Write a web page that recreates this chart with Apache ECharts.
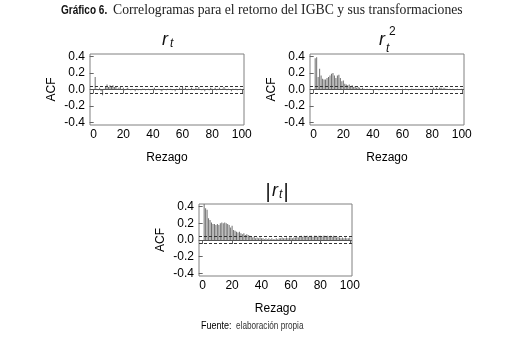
<!DOCTYPE html>
<html><head><meta charset="utf-8">
<script src="https://cdn.jsdelivr.net/npm/echarts@6/dist/echarts.min.js"></script>
<style>html,body{margin:0;padding:0;background:#fff}#c{width:525px;height:339px}</style>
</head><body><div id="c"></div>
<script>
const lags = Array.from({length: 100}, (_, i) => i + 1);
const xTicks = [0, 20, 40, 60, 80, 100];
const yTicks = [-0.4, -0.2, 0.0, 0.2, 0.4];
const confBound = 0.042;
const acfR = [0.15,0.01,-0.01,0.02,-0.02,-0.07,0.01,0.03,0.06,0.03,
  0.05,0.04,0.05,0.03,0.04,0.01,0.02,0.03,0.00,0.02,
  -0.01,0.01,0.02,0.00,-0.01,0.01,0.00,-0.02,0.01,-0.01,
  0.00,-0.01,0.01,0.01,-0.01,0.00,0.01,-0.01,0.00,0.01,
  0.02,-0.01,0.00,0.01,-0.01,-0.02,0.01,0.00,-0.01,0.01,
  0.00,0.01,-0.01,0.00,-0.02,0.01,0.00,0.02,0.01,0.03,
  0.01,0.02,-0.01,0.01,0.00,0.02,0.01,-0.01,0.02,0.01,
  0.03,0.00,-0.01,0.01,-0.02,0.00,0.01,-0.01,0.02,0.01,
  0.00,0.02,-0.01,0.01,0.02,0.00,0.01,0.03,0.01,-0.01,
  0.01,0.00,-0.02,0.01,0.00,0.01,-0.01,0.00,0.01,0.00];
const acfR2 = [0.38,0.39,0.15,0.25,0.17,0.13,0.12,0.12,0.14,0.15,
  0.17,0.19,0.20,0.17,0.14,0.17,0.18,0.14,0.10,0.11,
  0.07,0.06,0.05,0.06,0.04,0.05,0.03,0.04,0.02,0.03,
  0.02,0.01,0.02,0.01,0.00,0.01,0.00,0.01,0.00,-0.01,
  0.00,0.01,0.00,-0.01,0.00,0.00,0.01,0.00,-0.01,0.00,
  0.01,0.00,0.00,0.01,-0.01,0.00,0.01,0.00,0.00,0.01,
  0.00,0.01,0.00,-0.01,0.00,0.01,0.01,0.00,0.01,0.00,
  0.01,0.00,0.01,0.01,0.00,0.01,0.00,0.01,0.01,0.01,
  0.02,0.01,0.02,0.01,0.02,0.02,0.01,0.02,0.01,0.01,
  0.00,0.01,0.00,0.01,-0.01,0.00,0.01,0.00,0.00,0.01];
const acfAbs = [0.44,0.38,0.36,0.26,0.24,0.21,0.19,0.19,0.18,0.19,
  0.18,0.20,0.21,0.20,0.21,0.20,0.19,0.18,0.15,0.17,
  0.12,0.11,0.10,0.09,0.10,0.08,0.07,0.08,0.06,0.07,
  0.06,0.05,0.04,0.03,0.04,0.02,0.03,0.02,0.03,0.02,
  0.02,0.01,0.02,0.01,0.02,0.01,0.02,0.01,0.01,0.02,
  0.01,0.02,0.02,0.03,0.02,0.02,0.03,0.02,0.03,0.03,
  0.02,0.03,0.03,0.04,0.03,0.04,0.05,0.04,0.05,0.04,
  0.05,0.04,0.05,0.05,0.04,0.05,0.05,0.04,0.05,0.05,
  0.04,0.05,0.05,0.04,0.05,0.04,0.05,0.04,0.05,0.04,
  0.03,0.04,0.03,0.02,0.03,0.02,0.03,0.02,0.02,0.03];

const chart = echarts.init(document.getElementById('c'), null, {renderer: 'canvas'});
const AX = 'Liberation Sans, Arial, sans-serif';
const grids = [
  {left: 90, top: 54, width: 154, height: 71},
  {left: 310, top: 54, width: 154, height: 71},
  {left: 199, top: 204, width: 153, height: 72}
];
const seriesData = [acfR, acfR2, acfAbs];

function xAx(i) {
  return {type: 'value', gridIndex: i, min: -2.5, max: 101.5,
    name: 'Rezago', nameLocation: 'middle', nameGap: 27,
    nameTextStyle: {fontFamily: AX, fontSize: 12, color: '#000'},
    axisLine: {show: false}, splitLine: {show: false},
    axisTick: {show: true, inside: false, length: 4, lineStyle: {color: '#666'}, customValues: xTicks},
    axisLabel: {fontFamily: AX, fontSize: 12, color: '#000', margin: 4, customValues: xTicks,
      formatter: v => String(v)}
  };
}
function yAx(i) {
  return {type: 'value', gridIndex: i, min: -0.43, max: 0.43,
    name: 'ACF', nameLocation: 'middle', nameGap: 32, nameRotate: 90,
    nameTextStyle: {fontFamily: AX, fontSize: 12, color: '#000'},
    axisLine: {show: false}, splitLine: {show: false},
    axisTick: {show: true, inside: false, length: 4, lineStyle: {color: '#666'}, customValues: yTicks},
    axisLabel: {fontFamily: AX, fontSize: 12, color: '#000', margin: 5, customValues: yTicks,
      formatter: v => v.toFixed(1)}
  };
}

const series = seriesData.map((vals, i) => ({
  type: 'bar', xAxisIndex: i, yAxisIndex: i, barWidth: 1, silent: true,
  data: lags.map((l, k) => [l, vals[k]]),
  itemStyle: {color: '#707070'},
  markLine: {symbol: 'none', silent: true, label: {show: false},
    data: [
      {yAxis: 0, lineStyle: {color: '#555', type: 'solid', width: 1}},
      {yAxis: confBound, lineStyle: {color: '#333', type: [3, 2], width: 1}},
      {yAxis: -confBound, lineStyle: {color: '#333', type: [3, 2], width: 1}}
    ]}
}));

const TF = 'Liberation Sans, Arial, sans-serif';
function t(x, y, text, size, extra) {
  return {type: 'text', x: x, y: y, style: Object.assign({text: text, fontFamily: TF, fontSize: size,
    fontStyle: 'italic', fill: '#111', textAlign: 'left', textVerticalAlign: 'middle'}, extra || {})};
}

chart.setOption({
  animation: false,
  grid: grids.map(g => Object.assign({show: true, borderColor: '#808080', borderWidth: 1, backgroundColor: 'transparent'}, g)),
  xAxis: [0, 1, 2].map(xAx),
  yAxis: [0, 1, 2].map(yAx),
  series: series,
  graphic: [
    {type: 'text', x: 61, y: 10, scaleX: 0.77, style: {text: 'Gráfico 6.', fontFamily: TF, fontWeight: 'bold', fontSize: 13,
      fill: '#111', textAlign: 'left', textVerticalAlign: 'middle'}},
    {type: 'text', x: 113, y: 10, style: {text: 'Correlogramas para el retorno del IGBC y sus transformaciones',
      fontFamily: 'Liberation Serif, serif', fontSize: 13.7, fill: '#222', textAlign: 'left', textVerticalAlign: 'middle'}},
    {type: 'text', x: 201, y: 326, scaleX: 0.9, style: {text: 'Fuente:', fontFamily: TF, fontSize: 10,
      fill: '#000', textAlign: 'left', textVerticalAlign: 'middle'}},
    {type: 'text', x: 236, y: 326, scaleX: 0.82, style: {text: 'elaboración propia', fontFamily: TF, fontSize: 10,
      fill: '#333', textAlign: 'left', textVerticalAlign: 'middle'}},
    t(162, 39.5, 'r', 18),
    t(170, 43.5, 't', 12),
    t(379, 39.5, 'r', 18),
    t(386, 49, 't', 12),
    t(389, 32, '2', 12, {fontStyle: 'normal'}),
    {type: 'text', x: 268, y: 192, style: {text: '|', fontFamily: TF, fontSize: 20, fill: '#111', textAlign: 'center', textVerticalAlign: 'middle'}},
    t(272, 190.5, 'r', 18),
    t(279, 195, 't', 12),
    {type: 'text', x: 286, y: 192, style: {text: '|', fontFamily: TF, fontSize: 20, fill: '#111', textAlign: 'center', textVerticalAlign: 'middle'}}
  ]
});
</script></body></html>
